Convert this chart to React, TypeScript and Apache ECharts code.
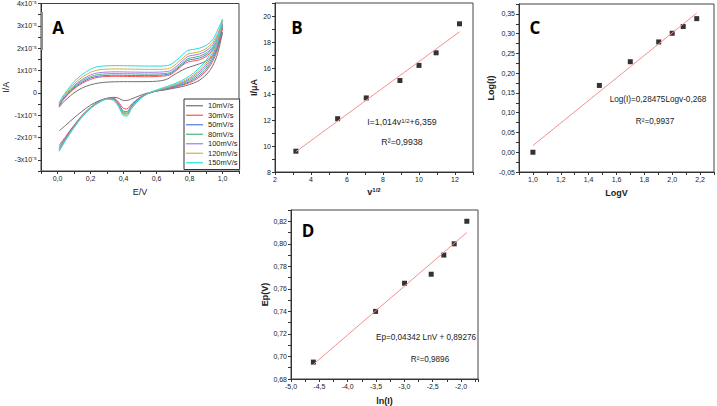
import React, { useEffect, useRef } from 'react';
import * as echarts from 'echarts';

// ---------- Panel A: cyclic voltammograms (current in units of 1e-5 A) ----------
const cvLabels = ['10mV/s', '30mV/s', '50mV/s', '80mV/s', '100mV/s', '120mV/s', '150mV/s'];
const cvColors = ['#707070', '#ff5050', '#5577dd', '#44bb77', '#aa77ee', '#d6b040', '#22dede'];

const cv10 = [
  [0.01, -1.7], [0.05, -1.45], [0.1, -1.12], [0.15, -0.82], [0.2, -0.55], [0.25, -0.36], [0.3, -0.24], [0.34, -0.2],
  [0.37, -0.24], [0.4, -0.34], [0.42, -0.34], [0.45, -0.27], [0.5, -0.12], [0.55, 0.0], [0.6, 0.08], [0.65, 0.13],
  [0.7, 0.2], [0.75, 0.27], [0.8, 0.37], [0.85, 0.52], [0.9, 0.8], [0.94, 1.2], [0.97, 1.75], [1.0, 2.7],
  [0.97, 2.0], [0.94, 1.65], [0.9, 1.42], [0.86, 1.3], [0.82, 1.2], [0.78, 1.1], [0.74, 0.95], [0.7, 0.78],
  [0.66, 0.6], [0.6, 0.52], [0.5, 0.5], [0.4, 0.5], [0.3, 0.48], [0.25, 0.44], [0.2, 0.36], [0.15, 0.22],
  [0.1, 0.0], [0.06, -0.25], [0.03, -0.45], [0.01, -0.65],
];
const cv30 = [
  [0.01, -2.35], [0.05, -1.95], [0.1, -1.45], [0.15, -1.0], [0.2, -0.65], [0.25, -0.4], [0.3, -0.25], [0.34, -0.24],
  [0.37, -0.42], [0.4, -0.7], [0.42, -0.72], [0.45, -0.5], [0.5, -0.2], [0.55, -0.02], [0.6, 0.08], [0.65, 0.15],
  [0.7, 0.23], [0.75, 0.33], [0.8, 0.45], [0.85, 0.65], [0.9, 0.97], [0.94, 1.4], [0.97, 1.95], [1.0, 2.9],
  [0.97, 2.25], [0.94, 1.9], [0.9, 1.62], [0.86, 1.48], [0.82, 1.42], [0.79, 1.38], [0.76, 1.25], [0.72, 1.0],
  [0.68, 0.8], [0.62, 0.74], [0.55, 0.72], [0.45, 0.73], [0.35, 0.74], [0.25, 0.7], [0.2, 0.6], [0.15, 0.43],
  [0.1, 0.18], [0.06, -0.1], [0.03, -0.35], [0.01, -0.6],
];
const cv50 = [
  [0.01, -2.45], [0.05, -2.0], [0.1, -1.48], [0.15, -1.02], [0.2, -0.66], [0.25, -0.4], [0.3, -0.25], [0.34, -0.26],
  [0.37, -0.48], [0.4, -0.82], [0.42, -0.84], [0.45, -0.56], [0.5, -0.22], [0.55, -0.03], [0.6, 0.08], [0.65, 0.16],
  [0.7, 0.25], [0.75, 0.36], [0.8, 0.5], [0.85, 0.72], [0.9, 1.05], [0.94, 1.5], [0.97, 2.05], [1.0, 3.0],
  [0.97, 2.35], [0.94, 1.98], [0.9, 1.7], [0.86, 1.56], [0.82, 1.5], [0.79, 1.46], [0.76, 1.3], [0.72, 1.05],
  [0.68, 0.85], [0.62, 0.79], [0.55, 0.78], [0.45, 0.78], [0.35, 0.79], [0.25, 0.75], [0.2, 0.66], [0.15, 0.48],
  [0.1, 0.22], [0.06, -0.08], [0.03, -0.33], [0.01, -0.58],
];
const cv80 = [
  [0.01, -2.5], [0.05, -2.03], [0.1, -1.5], [0.15, -1.03], [0.2, -0.67], [0.25, -0.41], [0.3, -0.26], [0.34, -0.28],
  [0.37, -0.52], [0.4, -0.88], [0.42, -0.9], [0.45, -0.6], [0.5, -0.24], [0.55, -0.03], [0.6, 0.09], [0.65, 0.18],
  [0.7, 0.28], [0.75, 0.4], [0.8, 0.56], [0.85, 0.8], [0.9, 1.15], [0.94, 1.6], [0.97, 2.15], [1.0, 3.05],
  [0.97, 2.45], [0.94, 2.05], [0.9, 1.78], [0.86, 1.64], [0.82, 1.58], [0.79, 1.53], [0.76, 1.36], [0.72, 1.1],
  [0.68, 0.9], [0.62, 0.85], [0.55, 0.84], [0.45, 0.85], [0.35, 0.86], [0.25, 0.82], [0.2, 0.72], [0.15, 0.54],
  [0.1, 0.27], [0.06, -0.05], [0.03, -0.3], [0.01, -0.55],
];
const cv100 = [
  [0.01, -2.55], [0.05, -2.06], [0.1, -1.52], [0.15, -1.04], [0.2, -0.68], [0.25, -0.42], [0.3, -0.27], [0.34, -0.3],
  [0.37, -0.55], [0.4, -0.92], [0.42, -0.94], [0.45, -0.63], [0.5, -0.25], [0.55, -0.03], [0.6, 0.1], [0.65, 0.2],
  [0.7, 0.31], [0.75, 0.44], [0.8, 0.62], [0.85, 0.88], [0.9, 1.24], [0.94, 1.7], [0.97, 2.25], [1.0, 3.1],
  [0.97, 2.55], [0.94, 2.15], [0.9, 1.88], [0.86, 1.74], [0.82, 1.68], [0.79, 1.63], [0.76, 1.45], [0.72, 1.18],
  [0.68, 0.98], [0.62, 0.93], [0.55, 0.92], [0.45, 0.93], [0.35, 0.94], [0.25, 0.9], [0.2, 0.8], [0.15, 0.6],
  [0.1, 0.32], [0.06, 0.0], [0.03, -0.27], [0.01, -0.52],
];
const cv120 = [
  [0.01, -2.6], [0.05, -2.1], [0.1, -1.55], [0.15, -1.06], [0.2, -0.69], [0.25, -0.43], [0.3, -0.28], [0.34, -0.32],
  [0.37, -0.58], [0.4, -0.97], [0.42, -0.99], [0.45, -0.66], [0.5, -0.27], [0.55, -0.03], [0.6, 0.11], [0.65, 0.22],
  [0.7, 0.34], [0.75, 0.48], [0.8, 0.67], [0.85, 0.95], [0.9, 1.33], [0.94, 1.8], [0.97, 2.35], [1.0, 3.2],
  [0.97, 2.65], [0.94, 2.25], [0.9, 1.98], [0.86, 1.84], [0.82, 1.78], [0.79, 1.74], [0.76, 1.56], [0.72, 1.3],
  [0.68, 1.1], [0.62, 1.05], [0.55, 1.05], [0.45, 1.06], [0.35, 1.07], [0.25, 1.03], [0.2, 0.92], [0.15, 0.7],
  [0.1, 0.4], [0.06, 0.06], [0.03, -0.22], [0.01, -0.48],
];
const cv150 = [
  [0.01, -2.62], [0.05, -2.12], [0.1, -1.56], [0.15, -1.07], [0.2, -0.7], [0.25, -0.44], [0.3, -0.29], [0.34, -0.34],
  [0.37, -0.62], [0.4, -1.02], [0.42, -1.04], [0.45, -0.7], [0.5, -0.28], [0.55, -0.02], [0.6, 0.13], [0.65, 0.25],
  [0.7, 0.38], [0.75, 0.54], [0.8, 0.75], [0.85, 1.05], [0.9, 1.45], [0.94, 1.92], [0.97, 2.45], [1.0, 3.3],
  [0.97, 2.8], [0.94, 2.38], [0.9, 2.12], [0.86, 2.0], [0.82, 1.94], [0.79, 1.9], [0.76, 1.72], [0.72, 1.45],
  [0.68, 1.25], [0.62, 1.2], [0.55, 1.2], [0.45, 1.21], [0.35, 1.22], [0.25, 1.18], [0.2, 1.06], [0.15, 0.82],
  [0.1, 0.5], [0.06, 0.12], [0.03, -0.18], [0.01, -0.45],
];
const cvCurves = [cv10, cv30, cv50, cv80, cv100, cv120, cv150];

// ---------- Panel B ----------
const bX = [3.16, 5.48, 7.07, 8.94, 10.0, 10.95, 12.25];
const bY = [9.6, 12.1, 13.7, 15.04, 16.2, 17.17, 19.4];
const bFitX = [3.16, 12.25];
const bFitY = [9.56, 18.78];

// ---------- Panel C ----------
const cX = [1.0, 1.477, 1.699, 1.903, 2.0, 2.079, 2.176];
const cY = [0.0, 0.169, 0.229, 0.279, 0.301, 0.318, 0.338];
const cFitX = [1.0, 2.176];
const cFitY = [0.017, 0.352];

// ---------- Panel D ----------
const dX = [-4.605, -3.507, -2.996, -2.526, -2.303, -2.12, -1.897];
const dY = [0.695, 0.74, 0.765, 0.773, 0.79, 0.8, 0.82];
const dFitX = [-4.605, -1.897];
const dFitY = [0.693, 0.81];

const FONT = 'Liberation Sans, Arial, sans-serif';
const zip = (xs: number[], ys: number[]) => xs.map((x, i) => [x, ys[i]]);
const comma = (s: string) => s.replace('.', ',');

const baseAxis = (gridIndex: number, extra: any) => ({
  type: 'value',
  gridIndex,
  axisLine: { show: true, onZero: false, lineStyle: { color: '#333', width: 1 } },
  axisTick: { show: true, length: 3, lineStyle: { color: '#333', width: 1 } },
  splitLine: { show: false },
  nameLocation: 'middle',
  ...extra,
  axisLabel: { fontSize: 7, color: '#222', fontFamily: FONT, margin: 4, ...(extra.axisLabel || {}) },
  nameTextStyle: { fontSize: 9, color: '#222', fontFamily: FONT, fontWeight: 'bold', ...(extra.nameTextStyle || {}) },
});

const eqText = (text: string, x: number, y: number, size: number, rich?: any) => ({
  type: 'text', x, y, z: 100,
  style: { text, fontSize: size, fontFamily: FONT, fill: '#222', align: 'center', verticalAlign: 'middle', ...(rich ? { rich } : {}) },
});

export default function App() {
  const ref = useRef<HTMLDivElement>(null);
  useEffect(() => {
    if (!ref.current) return;
    const chart = echarts.init(ref.current, null, { renderer: 'svg' });
    const gridStyle = { show: true, borderColor: '#444', borderWidth: 1, backgroundColor: 'transparent' };
    const option: any = {
      animation: false,
      backgroundColor: '#fff',
      grid: [
        { left: 41, top: 3, width: 198, height: 168, ...gridStyle },
        { left: 275, top: 3, width: 198, height: 169, ...gridStyle },
        { left: 519, top: 4, width: 197, height: 168, ...gridStyle },
        { left: 291, top: 210, width: 187, height: 169, ...gridStyle },
      ],
      xAxis: [
        baseAxis(0, {
          min: -0.1, max: 1.1, interval: 0.1, name: 'E/V', nameGap: 16,
          nameTextStyle: { fontWeight: 'normal', fontSize: 9 },
          axisLabel: {
            formatter: (v: number) => {
              const r = Math.round(v * 10);
              return r % 2 !== 0 ? '' : comma((r / 10).toFixed(1));
            },
          },
        }),
        baseAxis(1, {
          min: 2, max: 13, interval: 1, name: 'v{sup|1/2}', nameGap: 15,
          nameTextStyle: { rich: { sup: { fontSize: 6, fontWeight: 'bold', verticalAlign: 'top', fontFamily: FONT, color: '#222' } } },
          axisLabel: { formatter: (v: number) => (Math.round(v) % 2 !== 0 ? '' : String(Math.round(v))) },
        }),
        baseAxis(2, {
          min: 0.9, max: 2.3, interval: 0.1, name: 'LogV', nameGap: 16,
          axisLabel: {
            formatter: (v: number) => {
              const r = Math.round(v * 10);
              return r % 2 !== 0 ? '' : comma((r / 10).toFixed(1));
            },
          },
        }),
        baseAxis(3, {
          min: -5, max: -1.7, interval: 0.25, name: 'ln(I)', nameGap: 17,
          axisLabel: {
            formatter: (v: number) => {
              const r = Math.round(v * 100);
              return r % 50 !== 0 ? '' : comma((r / 100).toFixed(1));
            },
          },
        }),
      ],
      yAxis: [
        baseAxis(0, {
          min: -3.5, max: 4, interval: 0.5, name: 'I/A', nameGap: 31,
          nameTextStyle: { fontWeight: 'normal', fontSize: 9 },
          axisLabel: {
            formatter: (v: number) => {
              const r = Math.round(v * 2);
              if (r % 2 !== 0) return '';
              const n = r / 2;
              return n === 0 ? '0' : `${n}x10⁻⁵`;
            },
          },
        }),
        baseAxis(1, {
          min: 8, max: 21, interval: 1, name: 'I/μA', nameGap: 17,
          axisLabel: { formatter: (v: number) => (Math.round(v) % 2 !== 0 ? '' : String(Math.round(v))) },
        }),
        baseAxis(2, {
          min: -0.05, max: 0.375, interval: 0.025, name: 'Log(I)', nameGap: 22,
          axisLabel: {
            formatter: (v: number) => {
              const r = Math.round(v * 1000);
              return r % 50 !== 0 ? '' : comma((r / 1000).toFixed(2));
            },
          },
        }),
        baseAxis(3, {
          min: 0.68, max: 0.83, interval: 0.01, name: 'Ep(V)', nameGap: 20,
          axisLabel: {
            formatter: (v: number) => {
              const r = Math.round(v * 100);
              return r % 2 !== 0 ? '' : comma((r / 100).toFixed(2));
            },
          },
        }),
      ],
      legend: {
        data: cvLabels,
        orient: 'vertical',
        left: 184,
        top: 99,
        padding: [2, 2, 2, 2],
        itemGap: 0,
        itemWidth: 17,
        itemHeight: 1.2,
        icon: 'rect',
        selectedMode: false,
        borderColor: '#333',
        borderWidth: 1,
        backgroundColor: '#fff',
        textStyle: { fontSize: 7.5, lineHeight: 9.5, fontFamily: FONT, color: '#222' },
      },
      series: [
        ...cvCurves.map((d, i) => ({
          name: cvLabels[i],
          type: 'line',
          xAxisIndex: 0,
          yAxisIndex: 0,
          data: d,
          smooth: 0.3,
          symbol: 'none',
          showSymbol: false,
          lineStyle: { width: 1, color: cvColors[i] },
          itemStyle: { color: cvColors[i] },
        })),
        { type: 'line', xAxisIndex: 1, yAxisIndex: 1, data: zip(bFitX, bFitY), symbol: 'none', lineStyle: { color: '#f49090', width: 1 } },
        { type: 'scatter', xAxisIndex: 1, yAxisIndex: 1, data: zip(bX, bY), symbol: 'rect', symbolSize: 5, itemStyle: { color: '#000' } },
        { type: 'line', xAxisIndex: 2, yAxisIndex: 2, data: zip(cFitX, cFitY), symbol: 'none', lineStyle: { color: '#f49090', width: 1 } },
        { type: 'scatter', xAxisIndex: 2, yAxisIndex: 2, data: zip(cX, cY), symbol: 'rect', symbolSize: 5, itemStyle: { color: '#000' } },
        { type: 'line', xAxisIndex: 3, yAxisIndex: 3, data: zip(dFitX, dFitY), symbol: 'none', lineStyle: { color: '#f49090', width: 1 } },
        { type: 'scatter', xAxisIndex: 3, yAxisIndex: 3, data: zip(dX, dY), symbol: 'rect', symbolSize: 5, itemStyle: { color: '#000' } },
      ],
      graphic: [
        { type: 'rect', shape: { x: 41, y: 12, width: 2, height: 38 }, style: { fill: '#8a8a8a' }, z: 100 },
        ...[['A', 58, 27], ['B', 297, 27], ['C', 535, 27], ['D', 308, 230]].map(([t, x, y]) => ({
          type: 'text', x, y, z: 100,
          style: { text: t, fontSize: 17, fontWeight: 'bold', fontFamily: 'Open Sans, sans-serif', fill: '#000', align: 'center', verticalAlign: 'middle' },
        })),
        eqText('I=1,014v{sup|1/2}+6,359', 402, 122, 8.8, { sup: { fontSize: 6, fontFamily: FONT, fill: '#222', verticalAlign: 'top' } }),
        eqText('R²=0,9938', 402, 142, 8.8),
        eqText('Log(I)=0,28475Logv-0,268', 658, 99, 8.2),
        eqText('R²=0,9937', 655, 121, 8.2),
        eqText('Ep=0,04342 LnV + 0,89276', 426, 337, 8.2),
        eqText('R²=0,9896', 430, 359, 8.2),
      ],
    };
    chart.setOption(option);
    return () => chart.dispose();
  }, []);
  return <div ref={ref} style={{ position: 'fixed', left: 0, top: 0, width: 717, height: 406, background: '#fff' }} />;
}
